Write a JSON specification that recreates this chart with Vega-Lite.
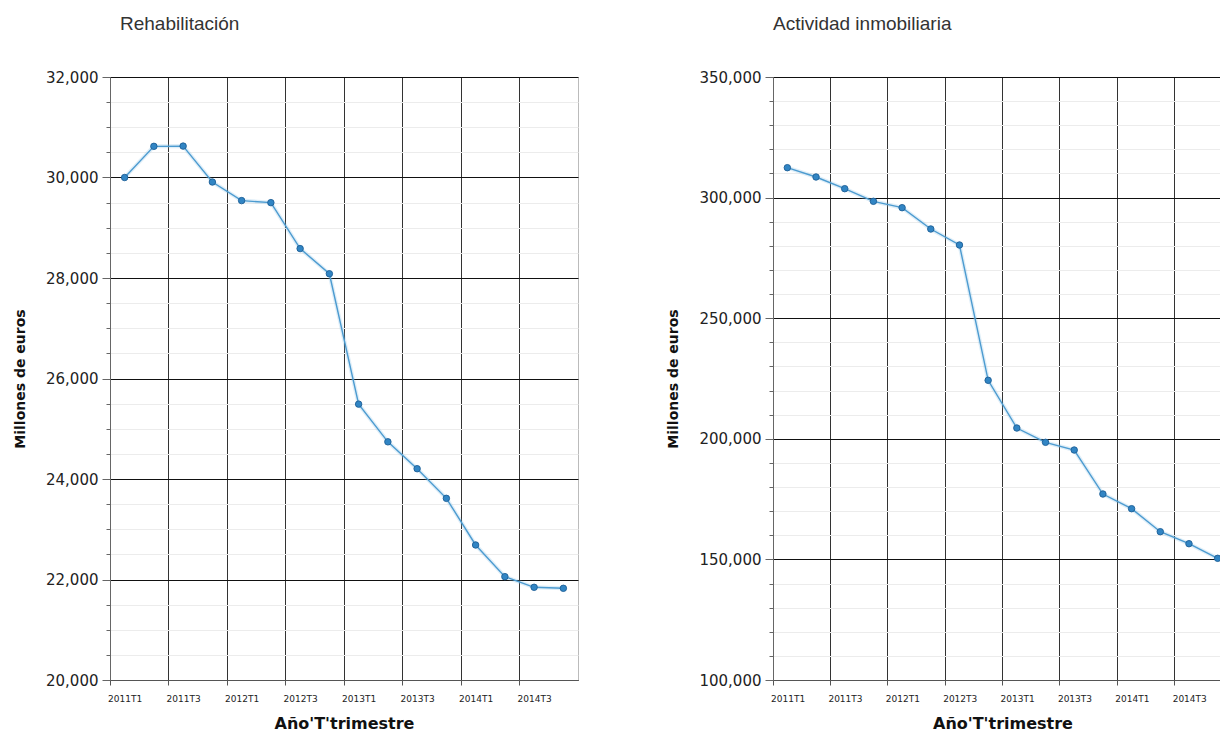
{
  "$schema": "https://vega.github.io/schema/vega-lite/v6.json",
  "padding": {"left": 13, "top": 14, "right": 0, "bottom": 0},
  "background": "white",
  "config": {
    "view": {"stroke": null},
    "axis": {"labelFont": "DejaVu Sans", "titleFont": "DejaVu Sans", "labelColor": "#222", "titleColor": "#111"}
  },
  "datasets": {
    "rehab": [
      {"periodo": "2011T1", "valor": 30000},
      {"periodo": "2011T2", "valor": 30620},
      {"periodo": "2011T3", "valor": 30625},
      {"periodo": "2011T4", "valor": 29910},
      {"periodo": "2012T1", "valor": 29540},
      {"periodo": "2012T2", "valor": 29500},
      {"periodo": "2012T3", "valor": 28585},
      {"periodo": "2012T4", "valor": 28085},
      {"periodo": "2013T1", "valor": 25490},
      {"periodo": "2013T2", "valor": 24740},
      {"periodo": "2013T3", "valor": 24205},
      {"periodo": "2013T4", "valor": 23615},
      {"periodo": "2014T1", "valor": 22687},
      {"periodo": "2014T2", "valor": 22057},
      {"periodo": "2014T3", "valor": 21845},
      {"periodo": "2014T4", "valor": 21825}
    ],
    "inmob": [
      {"periodo": "2011T1", "valor": 312400},
      {"periodo": "2011T2", "valor": 308540},
      {"periodo": "2011T3", "valor": 303700},
      {"periodo": "2011T4", "valor": 298460},
      {"periodo": "2012T1", "valor": 295820},
      {"periodo": "2012T2", "valor": 286980},
      {"periodo": "2012T3", "valor": 280350},
      {"periodo": "2012T4", "valor": 224250},
      {"periodo": "2013T1", "valor": 204470},
      {"periodo": "2013T2", "valor": 198540},
      {"periodo": "2013T3", "valor": 195350},
      {"periodo": "2013T4", "valor": 177110},
      {"periodo": "2014T1", "valor": 171020},
      {"periodo": "2014T2", "valor": 161480},
      {"periodo": "2014T3", "valor": 156510},
      {"periodo": "2014T4", "valor": 150450}
    ]
  },
  "spacing": 87,
  "hconcat": [
    {
      "width": 468,
      "height": 603,
      "view": {"stroke": "#bbb"},
      "title": {"text": "Rehabilitación", "anchor": "start", "frame": "group", "dx": 10, "offset": 36, "font": "Liberation Sans", "fontSize": 19, "fontWeight": "normal", "color": "#333"},
      "data": {"name": "rehab"},
      "encoding": {
        "x": {
          "field": "periodo", "type": "nominal", "sort": null,
          "scale": {"type": "band", "paddingInner": 0, "paddingOuter": 0},
          "axis": {
            "title": "Año'T'trimestre", "titleFontSize": 16, "titleFontWeight": "bold", "titlePadding": 12,
            "values": ["2011T1", "2011T3", "2012T1", "2012T3", "2013T1", "2013T3", "2014T1", "2014T3"],
            "bandPosition": 0, "labelAngle": 0, "labelAlign": "left", "labelOffset": -16.6, "labelFontSize": 9, "labelPadding": 9,
            "grid": true, "gridColor": "#333", "gridWidth": 1, "gridOpacity": 1,
            "tickSize": 5, "tickColor": "#555", "domainColor": "#555"
          }
        },
        "y": {
          "field": "valor", "type": "quantitative",
          "scale": {"domain": [20000, 32000], "nice": false, "zero": false},
          "axis": {
            "title": "Millones de euros", "titleFontSize": 14, "titleFontWeight": "bold", "titlePadding": 18,
            "values": [20000, 20500, 21000, 21500, 22000, 22500, 23000, 23500, 24000, 24500, 25000, 25500, 26000, 26500, 27000, 27500, 28000, 28500, 29000, 29500, 30000, 30500, 31000, 31500, 32000],
            "labelExpr": "datum.value % 2000 === 0 ? format(datum.value, ',') : ''",
            "labelOverlap": false, "labelFontSize": 15, "labelPadding": 4,
            "grid": true,
            "gridColor": {"condition": {"test": "datum.value % 2000 === 0", "value": "#111"}, "value": "#ececec"},
            "gridOpacity": 1,
            "tickSize": {"condition": {"test": "datum.value % 2000 === 0", "value": 8}, "value": 4},
            "tickColor": "#666", "domainColor": "#666"
          }
        }
      },
      "layer": [
        {"mark": {"type": "line", "color": "#7fbbe4", "strokeWidth": 4, "opacity": 0.25}},
        {"mark": {"type": "line", "color": "#4c9bd0", "strokeWidth": 1.4}},
        {"mark": {"type": "point", "filled": true, "color": "#3185c4", "size": 42, "opacity": 1, "stroke": "#1d5f96", "strokeWidth": 0.9}}
      ]
    },
    {
      "width": 447,
      "height": 603,
      "title": {"text": "Actividad inmobiliaria", "anchor": "start", "frame": "group", "dx": 0, "offset": 36, "font": "Liberation Sans", "fontSize": 19, "fontWeight": "normal", "color": "#333"},
      "data": {"name": "inmob"},
      "encoding": {
        "x": {
          "field": "periodo", "type": "nominal", "sort": null,
          "scale": {"type": "band", "paddingInner": 0, "paddingOuter": 0, "range": [0, 459]},
          "axis": {
            "title": "Año'T'trimestre", "titleFontSize": 16, "titleFontWeight": "bold", "titlePadding": 12,
            "values": ["2011T1", "2011T3", "2012T1", "2012T3", "2013T1", "2013T3", "2014T1", "2014T3"],
            "bandPosition": 0, "labelAngle": 0, "labelAlign": "left", "labelOffset": -16.3, "labelFontSize": 9, "labelPadding": 9,
            "grid": true, "gridColor": "#333", "gridWidth": 1, "gridOpacity": 1,
            "tickSize": 5, "tickColor": "#555", "domainColor": "#555"
          }
        },
        "y": {
          "field": "valor", "type": "quantitative",
          "scale": {"domain": [100000, 350000], "nice": false, "zero": false},
          "axis": {
            "title": "Millones de euros", "titleFontSize": 14, "titleFontWeight": "bold", "titlePadding": 18,
            "values": [100000, 110000, 120000, 130000, 140000, 150000, 160000, 170000, 180000, 190000, 200000, 210000, 220000, 230000, 240000, 250000, 260000, 270000, 280000, 290000, 300000, 310000, 320000, 330000, 340000, 350000],
            "labelExpr": "datum.value % 50000 === 0 ? format(datum.value, ',') : ''",
            "labelOverlap": false, "labelFontSize": 15, "labelPadding": 4,
            "grid": true,
            "gridColor": {"condition": {"test": "datum.value % 50000 === 0", "value": "#111"}, "value": "#ececec"},
            "gridOpacity": 1,
            "tickSize": {"condition": {"test": "datum.value % 50000 === 0", "value": 8}, "value": 4},
            "tickColor": "#666", "domainColor": "#666"
          }
        }
      },
      "layer": [
        {"mark": {"type": "line", "color": "#7fbbe4", "strokeWidth": 4, "opacity": 0.25}},
        {"mark": {"type": "line", "color": "#4c9bd0", "strokeWidth": 1.4}},
        {"mark": {"type": "point", "filled": true, "color": "#3185c4", "size": 42, "opacity": 1, "stroke": "#1d5f96", "strokeWidth": 0.9}}
      ]
    }
  ]
}
